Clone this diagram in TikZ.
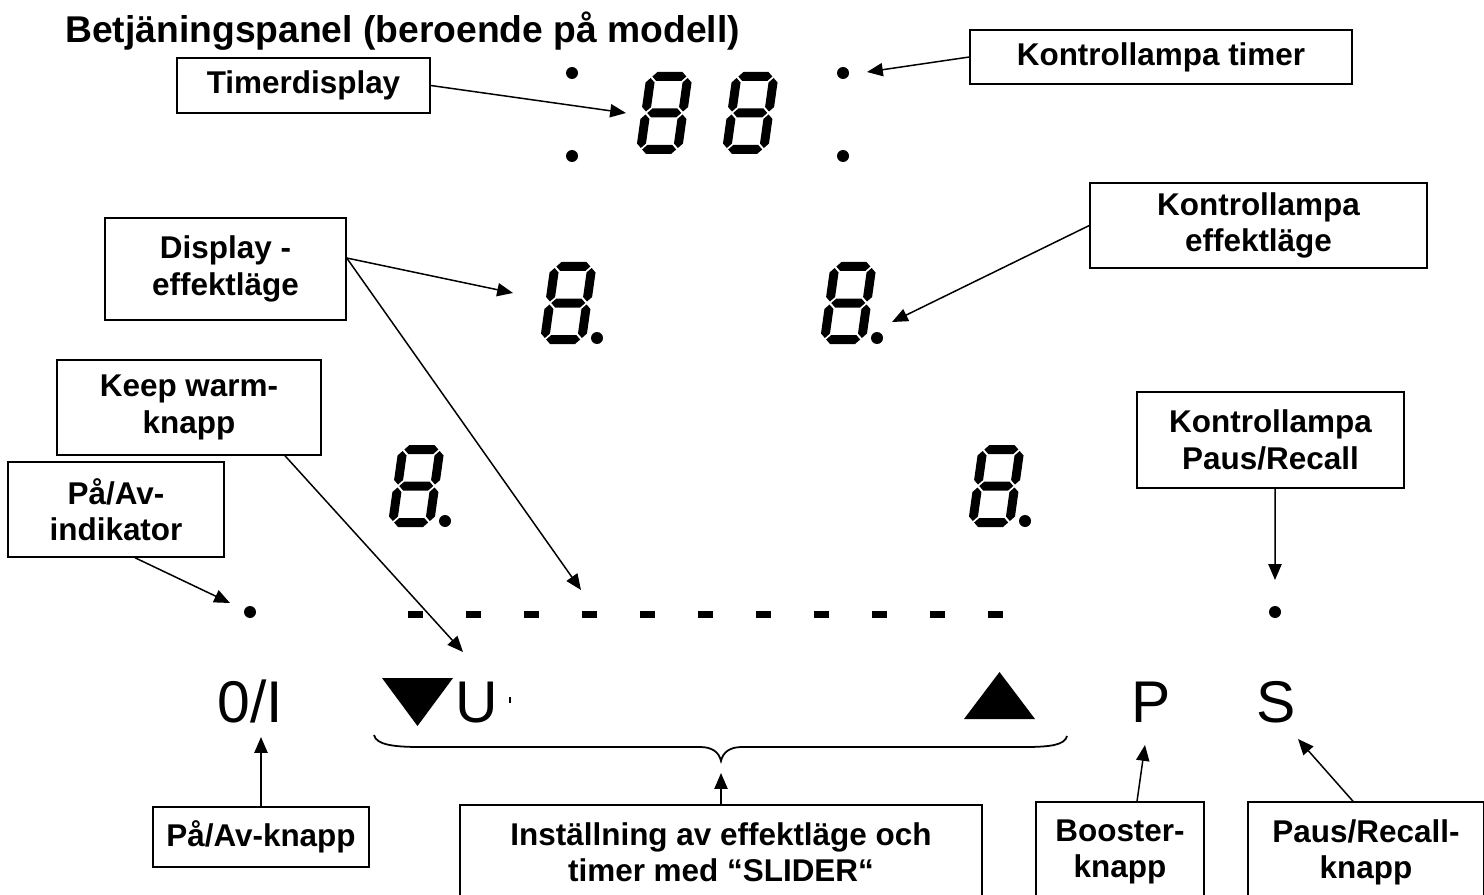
\documentclass[tikz,border=0pt]{standalone}
\usepackage{fontspec}
\setmainfont{Liberation Sans}
\usetikzlibrary{arrows.meta}

% one segment, horizontal / vertical, pointed ends
\newcommand{\hseg}[3]{\fill ({#1+1.5},#3) -- ({#1+6},{#3-4.5}) -- ({#2-6},{#3-4.5}) -- ({#2-1.5},#3) -- ({#2-6},{#3+4.5}) -- ({#1+6},{#3+4.5}) -- cycle;}
\newcommand{\vseg}[3]{\fill (#1,{#2+1.5}) -- ({#1+4.5},{#2+6}) -- ({#1+4.5},{#3-6}) -- (#1,{#3-1.5}) -- ({#1-4.5},{#3-6}) -- ({#1-4.5},{#2+6}) -- cycle;}
\newcommand{\segeight}[2]{%
  \begin{scope}[shift={(#1,#2)}, xslant=0.14]
    \hseg{4.5}{41.5}{4.5} \hseg{4.5}{41.5}{41} \hseg{4.5}{41.5}{77.5}
    \vseg{4.5}{4.5}{41} \vseg{41.5}{4.5}{41}
    \vseg{4.5}{41}{77.5} \vseg{41.5}{41}{77.5}
  \end{scope}}

\begin{document}
\begin{tikzpicture}[x=0.02cm, y=-0.02cm,
  lbl/.style={draw, line width=0.85pt, align=center, inner sep=0pt, font=\fontsize{17.9}{20.6}\selectfont\bfseries},
  pil/.style={line width=0.85pt, -{Triangle[length=9pt, width=7.5pt]}},
  key/.style={anchor=base, inner sep=0pt, font=\fontsize{33.5}{40}\selectfont}
]
  \useasboundingbox (0,0) rectangle (1484,895);
  \clip (0,0) rectangle (1484,895);

  \node[anchor=base west, inner sep=0pt, font=\fontsize{21.2}{25}\selectfont\bfseries] (title) at (65,43) {Betjäningspanel (beroende på modell)};

  % displays
  \segeight{647}{72} \segeight{733}{72}
  \segeight{551}{262} \segeight{831}{262}
  \segeight{399}{445} \segeight{979}{445}
  \foreach \p in {(572,73), (572,156), (843,73), (843,156), (597,338), (877,338), (445,521), (1025,521), (250,612), (1275,612)}
    \fill \p circle[radius=0.12cm];
  \foreach \i in {0,...,10}
    \fill ({408+58*\i},611) rectangle ++(15,7);

  % keys
  \node[key] (onoff) at (250,722) {0/I};
  \fill (382,678) -- (453,678) -- (417.5,726) -- cycle;
  \node[key] (keepw) at (477,722) {U};
  \draw[line width=0.6pt] (510,697) -- (510,703);
  \fill (964,719) -- (1035,719) -- (999.5,672) -- cycle;
  \node[key] (pkey) at (1151,722) {P};
  \node[key] (skey) at (1276,722) {S};
  \draw[line width=1pt] (374,735) .. controls (376,745) and (395,747) .. (420,747) -- (700,747)
    .. controls (712,747) and (719,752) .. (721,761) .. controls (723,752) and (730,747) .. (742,747)
    -- (1025,747) .. controls (1050,747) and (1065,745) .. (1067,736);

  % labels
  \node[lbl, minimum width=5.06cm, minimum height=1.1cm] (tdisp) at (303.5,85.5) {Timerdisplay};
  \node[lbl, minimum width=7.64cm, minimum height=1.08cm] (ktimer) at (1161,57) {Kontrollampa timer};
  \node[lbl, minimum width=6.74cm, minimum height=1.7cm] (keff) at (1258.5,225.5) {Kontrollampa\\effektläge};
  \node[lbl, minimum width=4.82cm, minimum height=2.04cm] (deff) at (225.5,269) {Display -\\effektläge};
  \node[lbl, minimum width=5.28cm, minimum height=1.9cm] (kwarm) at (189,407.5) {Keep warm-\\knapp};
  \node[lbl, minimum width=4.32cm, minimum height=1.9cm] (pind) at (116,509.5) {På/Av-\\indikator};
  \node[lbl, minimum width=5.34cm, minimum height=1.92cm] (kpaus) at (1270.5,440) {Kontrollampa\\Paus/Recall};
  \node[lbl, minimum width=4.32cm, minimum height=1.2cm] (pknapp) at (261,837) {På/Av-knapp};
  \node[lbl, minimum width=10.44cm, minimum height=1.88cm] (slider) at (721,852) {Inställning av effektläge och\\timer med “SLIDER“};
  \node[lbl, minimum width=3.36cm, minimum height=2cm] (booster) at (1120,852) {Booster-\\knapp};
  \node[lbl, minimum width=4.72cm, minimum height=2cm] (pausk) at (1366,852) {Paus/Recall-\\knapp};

  \coordinate (timerdig) at (626,113);
  \coordinate (tlamp) at (867,72);
  \coordinate (effdig) at (513,293);
  \coordinate (slidebar) at (581,590);
  \coordinate (efflamp) at (892,322);
  \coordinate (ukey) at (463,652);
  \coordinate (ondot) at (230,603);
  \coordinate (pausdot) at (1275,580);
  \coordinate (onkey) at (261,737);
  \coordinate (bracetip) at (721,773);
  \coordinate (pkeyb) at (1145,745);
  \coordinate (skeyb) at (1298,739);

  \draw[pil] (tdisp.east) -- (timerdig);
  \draw[pil] (ktimer.west) -- (tlamp);
  \draw[pil] ([yshift=0.22cm]deff.east) -- (effdig);
  \draw[pil] ([yshift=0.22cm]deff.east) -- (slidebar);
  \draw[pil] (keff.west) -- (efflamp);
  \draw[pil] ([xshift=1.92cm]kwarm.south) -- (ukey);
  \draw[pil] ([xshift=0.38cm]pind.south) -- (ondot);
  \draw[pil] ([xshift=0.09cm]kpaus.south) -- (pausdot);
  \draw[pil] (pknapp.north) -- (onkey);
  \draw[pil] (slider.north) -- (bracetip);
  \draw[pil] ([xshift=0.34cm]booster.north) -- (pkeyb);
  \draw[pil] ([xshift=-0.26cm]pausk.north) -- (skeyb);
\end{tikzpicture}
\end{document}
